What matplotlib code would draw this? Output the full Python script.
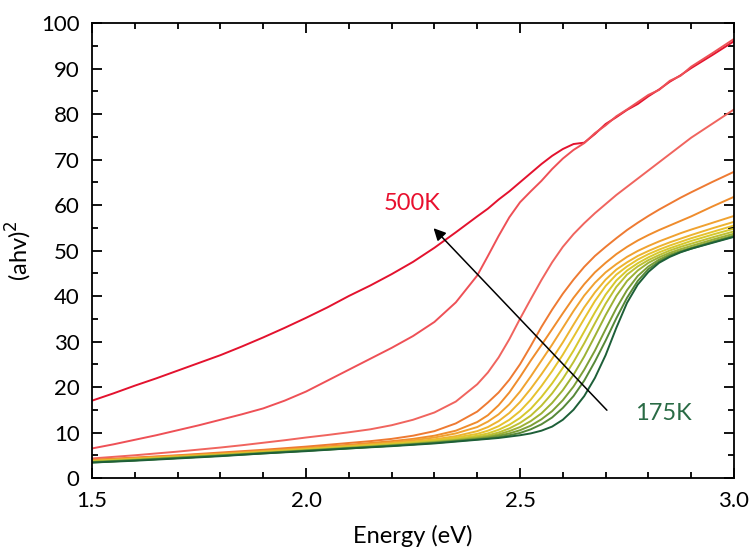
import matplotlib
matplotlib.use("Agg")
import matplotlib.pyplot as plt
from matplotlib.ticker import MultipleLocator, FormatStrFormatter

plt.rcParams['font.family'] = ['Lato', 'DejaVu Sans']

energy = [1.5, 1.55, 1.6, 1.65, 1.7, 1.75, 1.8, 1.85, 1.9, 1.95, 2.0, 2.05, 2.1, 2.15, 2.2,
          2.25, 2.3, 2.35, 2.4,
          2.425, 2.45, 2.475, 2.5, 2.525, 2.55, 2.575, 2.6, 2.625, 2.65, 2.675, 2.7, 2.725,
          2.75, 2.775, 2.8, 2.825, 2.85, 2.875, 2.9,
          2.95, 3.0]

temps = ["500K", "475K", "450K", "425K", "400K", "375K", "350K", "325K", "300K",
         "275K", "250K", "225K", "200K", "175K"]

t500 = [17.0, 18.6, 20.3, 21.9, 23.6, 25.3, 27.0, 28.9, 30.9, 33.0, 35.2, 37.5, 40.0, 42.3, 44.8,
        47.5, 50.6, 54.0, 57.5,
        59.2, 61.2, 63.0, 65.0, 67.0, 69.0, 70.8, 72.3, 73.4, 73.7, 75.6, 77.8, 79.3,
        80.9, 82.2, 83.9, 85.4, 87.1, 88.5, 90.1,
        93.0, 96.0]
t475 = [6.5, 7.4, 8.4, 9.4, 10.5, 11.6, 12.8, 14.0, 15.3, 17.0, 19.0, 21.4, 23.8, 26.2, 28.6,
        31.2, 34.3, 38.6, 44.5,
        48.8, 53.2, 57.3, 60.6, 63.0, 65.3, 67.9, 70.2, 72.1, 73.6, 75.8, 77.5, 79.5,
        81.0, 82.6, 84.2, 85.3, 87.3, 88.4, 90.4,
        93.4, 96.5]
t450 = [4.3, 4.65, 5.0, 5.4, 5.8, 6.25, 6.7, 7.2, 7.75, 8.3, 8.9, 9.45, 10.05, 10.7, 11.6,
        12.8, 14.4, 16.8, 20.6,
        23.2, 26.5, 30.5, 35.0, 39.3, 43.5, 47.4, 50.8, 53.6, 56.0, 58.2, 60.2, 62.2,
        64.0, 65.8, 67.6, 69.4, 71.2, 73.0, 74.8,
        77.9, 81.0]
t425 = [4.0, 4.25, 4.5, 4.75, 5.0, 5.3, 5.6, 5.9, 6.2, 6.55, 6.9, 7.3, 7.7, 8.1, 8.6,
        9.3, 10.3, 12.0, 14.6,
        16.6, 18.8, 21.6, 25.0, 29.0, 33.2, 37.0, 40.5, 43.6, 46.4, 48.8, 50.8, 52.7,
        54.5, 56.1, 57.6, 59.0, 60.3, 61.6, 62.8,
        65.1, 67.3]
t400 = [3.9, 4.15, 4.4, 4.65, 4.9, 5.15, 5.4, 5.7, 6.0, 6.3, 6.6, 6.95, 7.3, 7.7, 8.1,
        8.6, 9.3, 10.4, 12.3,
        13.8, 16.0, 18.8, 22.2, 25.8, 29.2, 32.7, 36.2, 39.6, 42.6, 45.2, 47.3, 49.2,
        50.8, 52.2, 53.4, 54.5, 55.5, 56.5, 57.5,
        59.7, 61.8]
t375 = [3.8, 4.05, 4.3, 4.55, 4.8, 5.05, 5.3, 5.6, 5.9, 6.2, 6.5, 6.8, 7.1, 7.45, 7.8,
        8.3, 8.9, 9.8, 11.2,
        12.4, 14.0, 16.2, 19.0, 22.3, 25.8, 29.3, 33.0, 36.7, 40.1, 42.9, 45.2, 47.0,
        48.6, 49.9, 51.0, 52.0, 52.9, 53.8, 54.6,
        56.1, 57.6]
t350 = [3.7, 3.95, 4.2, 4.45, 4.7, 4.95, 5.2, 5.5, 5.8, 6.1, 6.4, 6.7, 7.0, 7.3, 7.6,
        8.0, 8.5, 9.2, 10.3,
        11.2, 12.5, 14.3, 16.7, 19.6, 22.8, 26.2, 29.8, 33.7, 37.5, 40.8, 43.6, 45.8,
        47.4, 48.8, 49.9, 50.9, 51.8, 52.6, 53.4,
        54.9, 56.3]
t325 = [3.7, 3.9, 4.1, 4.35, 4.6, 4.85, 5.1, 5.4, 5.7, 6.0, 6.3, 6.6, 6.9, 7.2, 7.5,
        7.9, 8.3, 8.9, 9.7,
        10.4, 11.4, 12.8, 14.7, 17.2, 20.2, 23.5, 27.1, 31.0, 35.0, 38.9, 42.2, 44.7,
        46.5, 48.0, 49.2, 50.2, 51.1, 51.9, 52.7,
        54.1, 55.5]
t300 = [3.6, 3.85, 4.1, 4.35, 4.6, 4.85, 5.1, 5.35, 5.6, 5.9, 6.2, 6.5, 6.8, 7.1, 7.4,
        7.7, 8.1, 8.6, 9.3,
        9.8, 10.6, 11.7, 13.2, 15.2, 17.8, 20.8, 24.2, 28.0, 32.2, 36.4, 40.3, 43.4,
        45.6, 47.2, 48.5, 49.6, 50.5, 51.3, 52.1,
        53.5, 54.8]
t275 = [3.6, 3.8, 4.0, 4.25, 4.5, 4.75, 5.0, 5.3, 5.6, 5.85, 6.1, 6.4, 6.7, 7.0, 7.3,
        7.6, 8.0, 8.4, 9.0,
        9.4, 10.0, 10.9, 12.1, 13.7, 15.9, 18.6, 21.8, 25.5, 29.6, 34.0, 38.3, 42.0,
        44.7, 46.5, 47.9, 49.0, 50.0, 50.8, 51.5,
        52.9, 54.2]
t250 = [3.5, 3.75, 4.0, 4.25, 4.5, 4.75, 5.0, 5.25, 5.5, 5.8, 6.1, 6.35, 6.6, 6.9, 7.2,
        7.5, 7.9, 8.3, 8.8,
        9.1, 9.6, 10.3, 11.2, 12.5, 14.2, 16.5, 19.3, 22.7, 26.7, 31.2, 35.8, 40.0,
        43.3, 45.6, 47.3, 48.5, 49.5, 50.3, 51.0,
        52.4, 53.7]
t225 = [3.5, 3.7, 3.9, 4.15, 4.4, 4.65, 4.9, 5.2, 5.5, 5.75, 6.0, 6.3, 6.6, 6.85, 7.1,
        7.4, 7.8, 8.2, 8.6,
        8.9, 9.3, 9.8, 10.5, 11.5, 12.9, 14.7, 17.1, 20.1, 23.8, 28.0, 32.7, 37.3,
        41.3, 44.4, 46.5, 48.0, 49.1, 49.9, 50.6,
        52.0, 53.3]
t200 = [3.4, 3.65, 3.9, 4.15, 4.4, 4.65, 4.9, 5.15, 5.4, 5.7, 6.0, 6.25, 6.5, 6.8, 7.1,
        7.4, 7.7, 8.1, 8.5,
        8.7, 9.0, 9.4, 9.9, 10.7, 11.8, 13.3, 15.4, 18.0, 21.4, 25.6, 30.2, 35.1,
        39.6, 43.3, 45.9, 47.6, 48.8, 49.7, 50.4,
        51.8, 53.1]
t175 = [3.4, 3.6, 3.8, 4.05, 4.3, 4.55, 4.8, 5.1, 5.4, 5.65, 5.9, 6.2, 6.5, 6.75, 7.0,
        7.3, 7.6, 8.0, 8.4,
        8.6, 8.8, 9.1, 9.4, 9.8, 10.4, 11.3, 12.8, 15.0, 18.0, 22.0, 27.0, 33.0,
        38.5, 42.5, 45.3, 47.3, 48.6, 49.6, 50.4,
        51.7, 53.0]

series = [t500, t475, t450, t425, t400, t375, t350, t325, t300, t275, t250, t225, t200, t175]
colors = ['#E3122E', '#EE5056', '#F0645E', '#EE7A32', '#EF8C2C', '#F0A230', '#EDB42F',
          '#E6C22E', '#D6C82D', '#BEC032', '#9DB134', '#7C9E36', '#568838', '#1D5F38']

fig = plt.figure(figsize=(7.55, 5.53), dpi=100)
ax = fig.add_axes([0.1219, 0.1356, 0.8503, 0.8228])

for vals, col, lab in zip(series, colors, temps):
    ax.plot(energy, vals, color=col, lw=1.4, label=lab)

ax.set_xlim(1.5, 3.0)
ax.set_ylim(0, 100)
ax.xaxis.set_major_locator(MultipleLocator(0.5))
ax.xaxis.set_minor_locator(MultipleLocator(0.1))
ax.yaxis.set_major_locator(MultipleLocator(10))
ax.yaxis.set_minor_locator(MultipleLocator(5))
ax.xaxis.set_major_formatter(FormatStrFormatter('%.1f'))

ax.tick_params(which='both', direction='in', top=True, right=True, width=1.3,
               labelsize=16, colors='black')
ax.tick_params(which='major', length=7)
ax.tick_params(which='minor', length=4.5)
ax.tick_params(axis='y', pad=9)
ax.tick_params(axis='x', pad=9)
for s in ax.spines.values():
    s.set_linewidth(1.3)

ax.set_xlabel("Energy (eV)", fontsize=17)
ax.set_ylabel("(ahv)$^2$", fontsize=17)
ax.xaxis.set_label_coords(0.5, -0.103)
ax.yaxis.set_label_coords(-0.09, 0.5)

ax.annotate("", xy=(2.298, 54.9), xytext=(2.703, 14.9),
            arrowprops=dict(arrowstyle='-|>', color='black', lw=1.1,
                            mutation_scale=18, shrinkA=0, shrinkB=0))
ax.text(2.248, 60.4, "500K", color='#E8102E', fontsize=17, ha='center', va='center')
ax.text(2.834, 14.1, "175K", color='#2A6B45', fontsize=17, ha='center', va='center')

fig.savefig("out.png", dpi=100)
